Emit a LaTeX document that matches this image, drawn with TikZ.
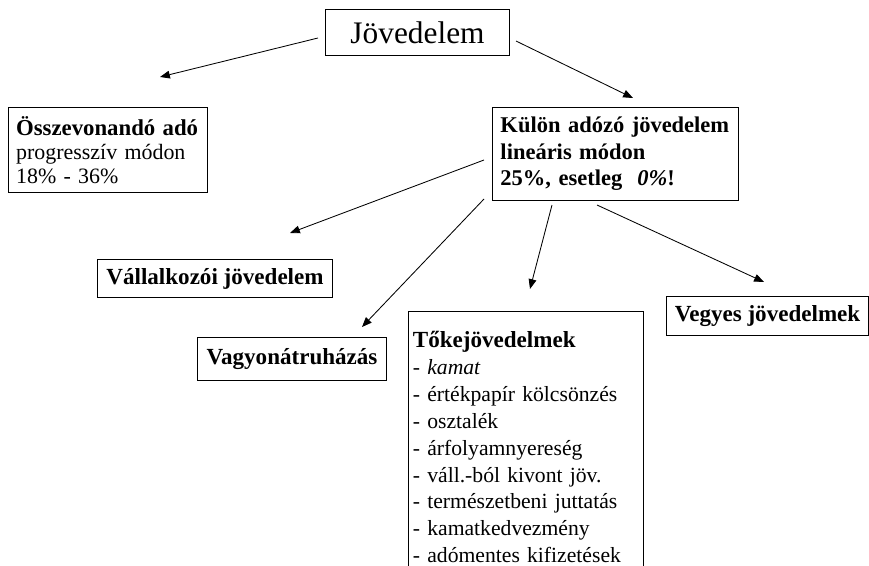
\documentclass[tikz,border=0pt]{standalone}
\usepackage{fontspec}
\setmainfont{Liberation Serif}
\usetikzlibrary{arrows.meta}

\begin{document}
\begin{tikzpicture}[x=0.025cm, y=-0.025cm,
  box/.style={draw, line width=0.7pt, anchor=north west, font=\fontsize{15.6}{17.4}\selectfont},
  head/.style={font=\fontsize{16.4}{17.4}\selectfont\bfseries},
  arr/.style={-{Triangle[length=7pt,width=5.5pt]}, line width=0.6pt} ]
      \useasboundingbox (0,0) rectangle (869,566);
      \node[box, minimum width=4.6cm, minimum height=1.15cm, font=\fontsize{22.3}{26}\selectfont] (jov) at (325,9) {Jövedelem};
      \node[box, text width=4.6cm, minimum height=2.125cm, inner xsep=0.19cm, align=left, font=\fontsize{15.6}{17.3}\selectfont] (ossz) at (8,107)
        {{\fontsize{16.2}{17.3}\selectfont\bfseries Összevonandó adó}\\ progresszív módon\\ 18\% - 36\%};
      \node[box, text width=5.75cm, minimum height=2.325cm, inner xsep=0.2cm, align=left, font=\fontsize{16}{18.8}\selectfont\bfseries] (kulon) at (492,107)
        {Külön adózó jövedelem\\ lineáris módon\\ 25\%, esetleg \ \textit{0\%}!};
      \node[box, head, minimum width=5.875cm, minimum height=0.95cm] (vall) at (97,259) {Vállalkozói jövedelem};
      \node[box, head, minimum width=4.725cm, minimum height=1.075cm] (vagy) at (197,337) {Vagyonátruházás};
      \node[box, head, minimum width=5.05cm, minimum height=0.975cm] (vegy) at (666,296) {Vegyes jövedelmek};
      \node[box, text width=5.65cm, inner xsep=0.11cm, inner ysep=0.5cm, align=left, font=\fontsize{15.4}{19.1}\selectfont] (toke) at (408,311)
        {{\fontsize{16.4}{19.1}\selectfont\bfseries Tőkejövedelmek}\\ - \textit{kamat}\\ - értékpapír kölcsönzés\\ - osztalék\\ - árfolyamnyereség\\
         - váll.-ból kivont jöv.\\ - természetbeni juttatás\\ - kamatkedvezmény\\ - adómentes kifizetések};
      \coordinate (jovL) at (318,38);
      \coordinate (jovR) at (516,41);
      \coordinate (osszT) at (160,77);
      \coordinate (kulonT) at (633,98);
      \coordinate (kulonA) at (484,160);
      \coordinate (kulonB) at (484,199);
      \coordinate (kulonC) at (552,205);
      \coordinate (kulonD) at (597,205);
      \coordinate (vallT) at (290,233);
      \coordinate (vagyT) at (362,327);
      \coordinate (tokeT) at (530,289);
      \coordinate (vegyT) at (764,282);
\draw[arr] (jovL)--(osszT);
\draw[arr] (jovR)--(kulonT);
\draw[arr] (kulonA)--(vallT);
\draw[arr] (kulonB)--(vagyT);
\draw[arr] (kulonC)--(tokeT);
\draw[arr] (kulonD)--(vegyT);
      \end{tikzpicture}
\end{document}
